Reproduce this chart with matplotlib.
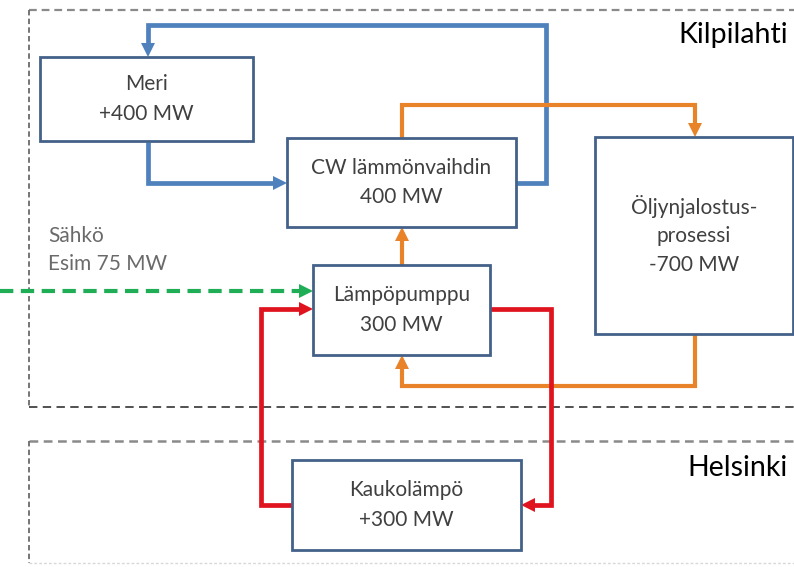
import matplotlib
matplotlib.use("Agg")
import matplotlib.pyplot as plt
from matplotlib.patches import Rectangle, Polygon

# ---------------- data (labels / values) ----------------
node_names = ["Meri", "CW lämmönvaihdin", "Öljynjalostus-\nprosessi", "Lämpöpumppu", "Kaukolämpö"]
node_mw = ["+400 MW", "400 MW", "-700 MW", "300 MW", "+300 MW"]
region_names = ["Kilpilahti", "Helsinki"]
power_lines = ["Sähkö", "Esim 75 MW"]

# ---------------- layout (pixel coordinates) ----------------
W, H = 794, 567
# boxes: x0, y0, x1, y1
node_boxes = [(40, 57, 253, 141), (287, 138, 516, 227), (595, 137, 793, 334),
              (313, 265, 490, 355), (292, 460, 521, 550)]
region_boxes = [(29, 10, 800, 407), (29, 441, 800, 563)]
region_label_pos = [(788, 35), (788, 468)]

BLUE = "#4F81BD"
ORANGE = "#E8832A"
RED = "#E0141E"
GREEN = "#1FAE55"
BOX_EDGE = "#44618A"
TEXT = "#404040"

flows = [
    # (polyline, colour, dashed)
    ([(148, 142), (148, 183), (287, 183)], BLUE, False),
    ([(516, 183), (546, 183), (546, 25), (148, 25), (148, 57)], BLUE, False),
    ([(402, 138), (402, 105), (695, 105), (695, 137)], ORANGE, False),
    ([(695, 334), (695, 386), (402, 386), (402, 355)], ORANGE, False),
    ([(402, 265), (402, 227)], ORANGE, False),
    ([(0, 291), (313, 291)], GREEN, True),
    ([(490, 309), (551, 309), (551, 505), (521, 505)], RED, False),
    ([(292, 505), (261, 505), (261, 309), (313, 309)], RED, False),
]
line_widths = {BLUE: 3.4, ORANGE: 3.0, RED: 3.4, GREEN: 3.0}

plt.rcParams['font.family'] = ['Lato', 'DejaVu Sans']

fig = plt.figure(figsize=(W / 100, H / 100), dpi=100)
ax = fig.add_axes([0, 0, 1, 1])
ax.set_xlim(0, W)
ax.set_ylim(H, 0)
ax.axis('off')

# region borders
(kx0, ky0, kx1, ky1) = region_boxes[0]
ax.plot([kx0, kx1], [ky0, ky0], color="#8A8A8A", lw=1.6, dashes=(3.5, 2.2))
ax.plot([kx0, kx0], [ky0, ky1], color="#6A6A6A", lw=1.3, dashes=(3.0, 1.8))
ax.plot([kx0, kx1], [ky1, ky1], color="#222222", lw=1.1, dashes=(5.5, 3.5))
(hx0, hy0, hx1, hy1) = region_boxes[1]
ax.plot([hx0, hx1], [hy0, hy0], color="#8A8A8A", lw=1.8, dashes=(3.5, 2.2))
ax.plot([hx0, hx0], [hy0, hy1], color="#6A6A6A", lw=1.3, dashes=(3.0, 1.8))
ax.plot([hx0, hx1], [hy1, hy1], color="#D8D8D8", lw=1.0, dashes=(2.0, 1.5))

for name, (x, y) in zip(region_names, region_label_pos):
    ax.text(x, y, name, ha='right', va='center', fontsize=20.5, color='black')

# flows
HEAD_L, HEAD_W = 14, 7
for pts, col, dashed in flows:
    xs = [p[0] for p in pts]
    ys = [p[1] for p in pts]
    (xa, ya), (xb, yb) = pts[-2], pts[-1]
    dx, dy = xb - xa, yb - ya
    n = (dx ** 2 + dy ** 2) ** 0.5
    ux, uy = dx / n, dy / n
    xs[-1] = xb - ux * (HEAD_L - 2)
    ys[-1] = yb - uy * (HEAD_L - 2)
    kw = dict(color=col, lw=line_widths[col], solid_joinstyle='miter',
              solid_capstyle='butt', zorder=2)
    if dashed:
        kw.update(dashes=(3.2, 1.8), dash_capstyle='butt')
    ax.plot(xs, ys, **kw)
    bx, by = xb - ux * HEAD_L, yb - uy * HEAD_L
    px, py = -uy, ux
    head = Polygon([(xb, yb), (bx + px * HEAD_W, by + py * HEAD_W),
                    (bx - px * HEAD_W, by - py * HEAD_W)], closed=True,
                   facecolor=col, edgecolor='none', zorder=3)
    ax.add_patch(head)

# nodes
for name, mw, (x0, y0, x1, y1) in zip(node_names, node_mw, node_boxes):
    ax.add_patch(Rectangle((x0, y0), x1 - x0, y1 - y0, facecolor='white',
                           edgecolor=BOX_EDGE, lw=2.0, zorder=4))
    lines = name.split("\n") + [mw]
    cx, cy = (x0 + x1) / 2, (y0 + y1) / 2
    step = 29.5
    start = cy - step * (len(lines) - 1) / 2
    for i, ln in enumerate(lines):
        ax.text(cx, start + i * step, ln, ha='center', va='center',
                fontsize=15, color=TEXT, zorder=5)

# electricity label
for i, ln in enumerate(power_lines):
    ax.text(48, 236 + i * 28, ln, ha='left', va='center', fontsize=15, color="#6A6A6A")

fig.savefig("out.png", dpi=100)
